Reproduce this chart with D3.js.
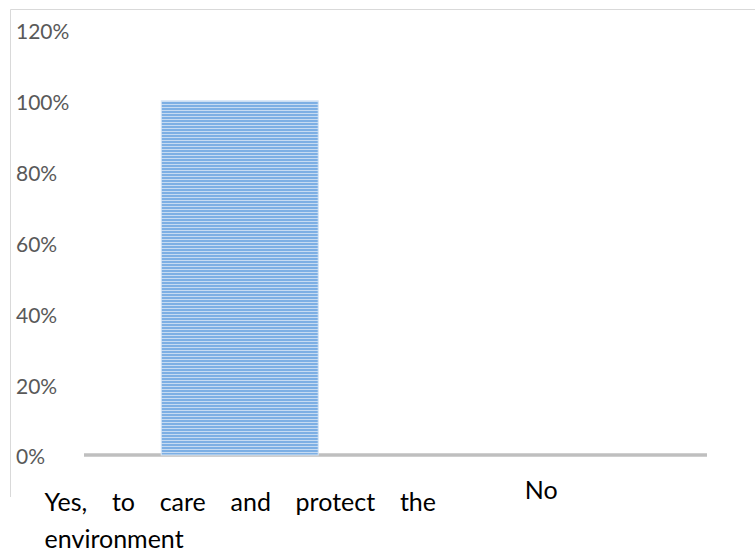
<!DOCTYPE html>
<html>
<head>
<meta charset="utf-8">
<script src="https://cdn.jsdelivr.net/npm/d3@7/dist/d3.min.js"></script>
<style>
  html, body { margin: 0; padding: 0; background: #fff; }
  svg { display: block; }
</style>
</head>
<body>
<svg id="chart" width="755" height="558"></svg>
<script>
// Survey answers and their shares
const categories = ["Yes, to care and protect the environment", "No"];
const shares = [1.0, 0.0];
const tickValues = [0, 0.2, 0.4, 0.6, 0.8, 1.0, 1.2];

// Category label lines as they wrap under the axis
const labelLines = [
  [["Yes,", "to", "care", "and", "protect", "the"], ["environment"]],
  [["No"]]
];

const W = 755, H = 558;
const svg = d3.select("#chart");

// Striped fill for the bars
const defs = svg.append("defs");
const pat = defs.append("pattern")
  .attr("id", "stripes")
  .attr("patternUnits", "userSpaceOnUse")
  .attr("width", 8).attr("height", 3);
pat.append("rect").attr("width", 8).attr("height", 3).attr("fill", "#c6dbf2");
pat.append("rect").attr("y", 0).attr("width", 8).attr("height", 2).attr("fill", "#7dafe4");

// Chart frame (top and left edges visible)
svg.append("line").attr("x1", 10.5).attr("x2", W).attr("y1", 9.5).attr("y2", 9.5)
  .attr("stroke", "#d9d9d9").attr("stroke-width", 1);
svg.append("line").attr("x1", 10.5).attr("x2", 10.5).attr("y1", 9.5).attr("y2", 497)
  .attr("stroke", "#d9d9d9").attr("stroke-width", 1);

const y = d3.scaleLinear().domain([0, 1.2]).range([455, 30]);
const x = d3.scaleBand().domain(categories).range([84, 707])
  .paddingInner(0.496).paddingOuter(0.248);

// Y tick labels (left aligned)
svg.append("g").selectAll("text")
  .data(tickValues)
  .join("text")
  .attr("x", 16)
  .attr("y", d => y(d) + 2)
  .attr("dy", "0.35em")
  .attr("font-family", "Lato, 'Open Sans', sans-serif")
  .attr("font-size", 21)
  .attr("fill", "#595959")
  .text(d3.format(".0%"));

// Baseline axis
svg.append("line")
  .attr("x1", x.range()[0]).attr("x2", x.range()[1])
  .attr("y1", y(0)).attr("y2", y(0))
  .attr("stroke", "#bfbfbf").attr("stroke-width", 3.5);

// Bars
svg.append("g").selectAll("rect")
  .data(categories.map((c, i) => ({ c, v: shares[i] })).filter(d => d.v > 0))
  .join("rect")
  .attr("x", d => x(d.c))
  .attr("width", x.bandwidth())
  .attr("y", d => y(d.v))
  .attr("height", d => y(0) - y(d.v))
  .attr("fill", "url(#stripes)")
  .attr("stroke", "#d5e5f6")
  .attr("stroke-width", 1);

// Category labels: first line justified across its block
const labelFont = "Lato, 'Open Sans', sans-serif";
const labelSize = 25;
const blocks = [
  { x0: 44.6, x1: 436, baselines: [511, 548] },
  { x0: 524.7, x1: null, baselines: [499] }
];
const lg = svg.append("g")
  .attr("font-family", labelFont)
  .attr("font-size", labelSize)
  .attr("fill", "#000");

labelLines.forEach((lines, bi) => {
  const b = blocks[bi];
  lines.forEach((words, li) => {
    const last = li === lines.length - 1;
    const nodes = words.map(w => lg.append("text").attr("y", b.baselines[li]).text(w));
    const widths = nodes.map(n => n.node().getComputedTextLength());
    const total = d3.sum(widths);
    let gap = 6;
    if (!last && b.x1 !== null && words.length > 1) {
      gap = (b.x1 - b.x0 - total) / (words.length - 1);
    }
    let cx = b.x0;
    nodes.forEach((n, i) => { n.attr("x", cx); cx += widths[i] + gap; });
  });
});
</script>
</body>
</html>
